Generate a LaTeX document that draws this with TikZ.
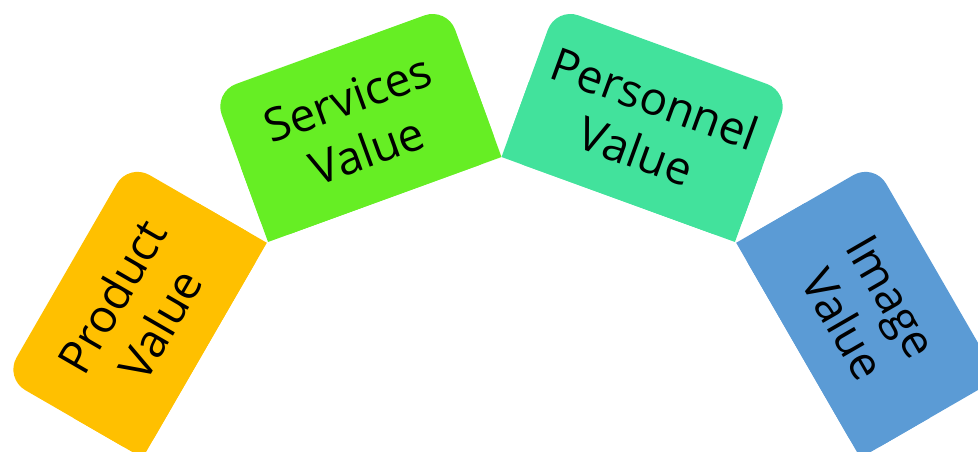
\documentclass[tikz,border=0pt]{standalone}
\usepackage{fontspec}
\setmainfont{Open Sans}
\usetikzlibrary{backgrounds}
\definecolor{cprod}{HTML}{FFC000}
\definecolor{cserv}{HTML}{66EE24}
\definecolor{cpers}{HTML}{42E29C}
\definecolor{cimg}{HTML}{5B9BD5}
\begin{document}
\begin{tikzpicture}[x=1pt,y=1pt,
  valbox/.style={rectangle, minimum width=248pt, minimum height=159pt, inner sep=0pt,
    align=center, text=black, font=\fontsize{46}{56}\selectfont}]
\useasboundingbox (0,0) rectangle (978,452);
\clip (0,0) rectangle (978,452);
\node[valbox, rotate=60]  (prod) at (135.7,141.5) {Product\\Value};
\node[valbox, rotate=20]  (serv) at (357.5,327.4) {Services\\Value};
\node[valbox, rotate=-20] (pers) at (645.5,327.4) {Personnel\\Value};
\node[valbox, rotate=-60] (img)  at (867.3,141.5) {Image\\Value};
\begin{scope}[on background layer]
\foreach \n/\c in {prod/cprod, serv/cserv, pers/cpers, img/cimg}{
  \fill[\c, rounded corners=24pt] (\n.south west) -- (\n.north west) -- (\n.north east) -- (\n.south east) -- cycle;
  \fill[\c] (\n.south west) -- (\n.west) -- (\n.east) -- (\n.south east) -- cycle;
}
\end{scope}
\end{tikzpicture}
\end{document}
